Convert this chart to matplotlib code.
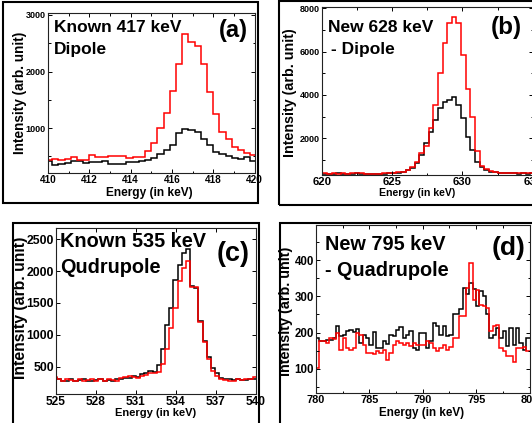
import numpy as np
import matplotlib
matplotlib.use('Agg')
import matplotlib.pyplot as plt
from matplotlib.ticker import MultipleLocator
from matplotlib.patches import Rectangle

plt.rcParams['font.family'] = ['Liberation Sans', 'DejaVu Sans']
plt.rcParams['font.weight'] = 'bold'
plt.rcParams['axes.labelweight'] = 'bold'

# ---- data (counts per bin) ----
# (a) known 417 keV dipole
a_start, a_width = 409.9, 0.3
a_black = [411, 352, 360, 382, 411, 411, 382, 394, 394, 411, 364, 364, 370, 400, 400, 423, 429,
           470, 546, 605, 705, 911, 987, 970, 923, 805, 705, 570, 546, 499, 470, 452, 488, 411]
a_red = [430, 445, 440, 445, 480, 440, 440, 530, 490, 480, 500, 505, 505, 470, 490, 495, 600,
         735, 1000, 1270, 1650, 2140, 2660, 2520, 2450, 2140, 1640, 1250, 930, 810, 665, 605, 560, 520]

# (b) new 628 keV dipole
b_start, b_width = 620.0, 0.33
b_black = [360, 350, 355, 370, 365, 350, 360, 370, 355, 350, 345, 350, 355, 360, 370, 380, 400,
           450, 510, 620, 850, 1230, 1800, 2300, 2850, 3390, 3690, 3770, 3920, 3540, 2920, 2070,
           1460, 920, 690, 530, 460, 420, 400, 380, 375, 370, 365, 370, 360, 370]
b_red = [370, 360, 380, 365, 370, 360, 385, 400, 370, 365, 350, 355, 360, 380, 390, 400, 420,
         460, 520, 650, 900, 1300, 1650, 2490, 3540, 5030, 6420, 7310, 7590, 7300, 5850, 4260,
         3000, 1400, 700, 560, 480, 430, 410, 400, 390, 380, 390, 380, 370, 390]

# (c) known 535 keV quadrupole
c_start, c_width = 524.74, 0.3125
c_black = [330, 300, 270, 280, 300, 270, 290, 300, 280, 270, 290, 300, 280, 285, 270, 300, 310,
           320, 330, 350, 340, 380, 400, 430, 420, 520, 780, 1150, 1420, 1860, 2100, 2290, 2350,
           1760, 1740, 1210, 900, 660, 480, 400, 330, 310, 300, 290, 300, 290, 295, 300, 305]
c_red = [340, 310, 280, 300, 290, 280, 310, 280, 290, 310, 280, 300, 270, 300, 290, 280, 320,
         340, 360, 340, 330, 350, 370, 400, 400, 420, 550, 780, 1100, 1420, 1850, 2050, 2160,
         1750, 1750, 1200, 880, 620, 440, 350, 300, 290, 280, 270, 300, 290, 310, 300, 340]

# (d) new 795 keV quadrupole
d_start, d_width = 780.0, 0.3125
d_black = [185, 176, 178, 180, 180, 185, 218, 190, 194, 204, 208, 202, 210, 171, 194, 185, 167,
           202, 157, 157, 176, 169, 194, 190, 208, 215, 185, 194, 204, 157, 153, 199,
           199, 157, 176, 227, 218, 194, 218, 190, 194, 250, 250, 264, 324, 306, 338, 320, 273,
           315, 301, 250, 185, 194, 213, 185, 204, 162, 213, 167, 213, 171, 153, 185]
d_red = [102, 178, 178, 171, 185, 183, 199, 153, 185, 157, 153, 157, 199, 194, 167, 143, 143,
         141, 148, 143, 153, 125, 143, 167, 176, 171, 167, 171, 162, 171, 167, 167,
         167, 176, 170, 157, 148, 157, 167, 153, 160, 185, 185, 245, 245, 324, 393, 290, 318,
         275, 272, 268, 205, 218, 222, 157, 150, 134, 134, 120, 157, 157, 160, 150]

W, H = 532, 423
fig = plt.figure(figsize=(W / 100, H / 100), dpi=100)


def frame(x0, y0, x1, y1):
    fig.add_artist(Rectangle((x0 / W, 1 - y1 / H), (x1 - x0) / W, (y1 - y0) / H,
                             transform=fig.transFigure, fill=False, lw=1.5, ec='black'))


def ftext(x, y, s, size, ha='left'):
    fig.text(x / W, 1 - y / H, s, fontsize=size, ha=ha, va='baseline', fontweight='bold')


def panel(box, start, width, black, red, xlim, ylim, xstep, xminor, ystep, yminor,
          xtick_fs, ytick_fs, xlab, ylab):
    l, t, r, b = box
    ax = fig.add_axes([l / W, 1 - b / H, (r - l) / W, (b - t) / H])
    edges = start + width * np.arange(len(black) + 1)
    ax.stairs(black, edges, baseline=None, color='black', lw=1.1)
    ax.stairs(red, edges, baseline=None, color='#ff0000', lw=1.1)
    ax.set_xlim(*xlim)
    ax.set_ylim(*ylim)
    ax.xaxis.set_major_locator(MultipleLocator(xstep))
    ax.yaxis.set_major_locator(MultipleLocator(ystep))
    if xminor:
        ax.xaxis.set_minor_locator(MultipleLocator(xminor))
    if yminor:
        ax.yaxis.set_minor_locator(MultipleLocator(yminor))
    ax.tick_params(which='both', direction='in', top=True, right=True, width=0.7, pad=2)
    ax.tick_params(which='major', length=3)
    ax.tick_params(which='minor', length=1.8)
    ax.tick_params(axis='x', labelsize=xtick_fs, pad=1.5)
    ax.tick_params(axis='y', labelsize=ytick_fs, pad=1.5)
    for s in ax.spines.values():
        s.set_linewidth(0.8)
        s.set_color('#222222')
    ax.set_xlabel('Energy (in keV)', fontsize=xlab[0])
    ax.xaxis.set_label_coords(xlab[1], xlab[2])
    ax.set_ylabel('Intensity (arb. unit)', fontsize=ylab[0])
    ax.yaxis.set_label_coords(ylab[1], ylab[2])
    return ax


# (a)
frame(3, 2, 258, 203)
panel((48, 13, 254.5, 173), a_start, a_width, a_black, a_red, (410, 420), (205, 3035),
      2, 1, 1000, 500, 7.2, 6.5, (8.6, 0.49, -0.088), (9.8, -0.10, 0.5))
ftext(53.5, 31.7, 'Known 417 keV', 12.5)
ftext(53.5, 54.3, 'Dipole', 12.5)
ftext(248, 37, '(a)', 17, ha='right')

# (b)
frame(279, 1, 560, 205)
panel((322.3, 6.7, 532.6, 175), b_start, b_width, b_black, b_red, (620, 635), (300, 8075),
      5, 2.5, 2000, 1000, 8.2, 6.5, (7.6, 0.45, -0.075), (10.3, -0.12, 0.49))
ftext(327.7, 31.7, 'New 628 keV', 12.5)
ftext(331, 54.3, '- Dipole', 12.5)
ftext(521.7, 34.2, '(b)', 17.5, ha='right')

# (c)
frame(13, 223, 259, 450)
panel((56, 228.3, 256, 393.5), c_start, c_width, c_black, c_red, (525, 540), (80, 2670),
      3, None, 500, None, 8.6, 8.8, (8.0, 0.5, -0.09), (11.3, -0.139, 0.52))
ftext(60, 247.3, 'Known 535 keV', 14.3)
ftext(60, 273.3, 'Qudrupole', 14.3)
ftext(250, 261, '(c)', 19.5, ha='right')

# (d)
frame(280, 223, 560, 450)
panel((316, 225, 529.5, 392.7), d_start, d_width, d_black, d_red, (780, 800), (34, 497),
      5, 2.5, 100, 50, 7.9, 8.3, (8.4, 0.494, -0.086), (10.4, -0.106, 0.483))
ftext(325, 250, 'New 795 keV', 14.3)
ftext(325, 275.7, '- Quadrupole', 14.3)
ftext(525.7, 254.5, '(d)', 19, ha='right')

fig.savefig('out.png', dpi=100)
